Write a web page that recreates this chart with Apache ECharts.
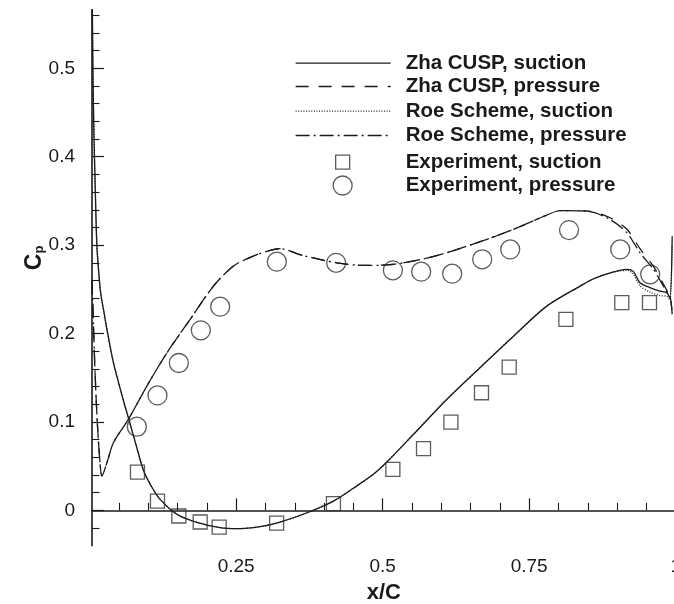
<!DOCTYPE html>
<html><head><meta charset="utf-8">
<script src="https://cdn.jsdelivr.net/npm/echarts@6/dist/echarts.min.js"></script>
<style>html,body{margin:0;padding:0;background:#fff}#c{width:674px;height:604px}</style>
</head><body><div id="c"></div>
<script>
// ---- tick values / labels ----
const xTickValues = [0.25, 0.5, 0.75, 1];
const xTickLabels = ['0.25', '0.5', '0.75', '1'];
const xMinorTicks = [0.05,0.1,0.15,0.2,0.3,0.35,0.4,0.45,0.55,0.6,0.65,0.7,0.8,0.85,0.9,0.95];
const yTickValues = [0, 0.1, 0.2, 0.3, 0.4, 0.5];
const yTickLabels = ['0', '0.1', '0.2', '0.3', '0.4', '0.5'];
const yMinorTicks = [-0.02,0.02,0.04,0.06,0.08,0.12,0.14,0.16,0.18,0.22,0.24,0.26,0.28,0.32,0.34,0.36,0.38,0.42,0.44,0.46,0.48,0.52,0.54,0.56];

// ---- series names ----
const seriesNames = ['Zha CUSP, suction','Zha CUSP, pressure','Roe Scheme, suction','Roe Scheme, pressure','Experiment, suction','Experiment, pressure'];

// ---- Zha CUSP, suction ----
const zhaSucX = [0.004,0.0055,0.0075,0.0095,0.0123,0.016,0.019,0.025,0.0294,0.0406,0.0577,0.066,0.08,0.092,0.1055,0.1203,0.1488,0.183,0.2227,0.2512,0.291,0.325,0.37,0.416,0.45,0.484,0.507,0.5526,0.6096,0.666,0.7232,0.78,0.837,0.86,0.89,0.917,0.928,0.939,0.956,0.973,0.985,0.990,0.994];
const zhaSucY = [0.62,0.50,0.42,0.365,0.30,0.265,0.245,0.222,0.205,0.167,0.124,0.105,0.072,0.045,0.027,0.0124,-0.0045,-0.0136,-0.0196,-0.0207,-0.0184,-0.0132,-0.003,0.0105,0.025,0.0407,0.0546,0.086,0.1256,0.1614,0.197,0.231,0.2537,0.262,0.269,0.2726,0.270,0.2575,0.252,0.248,0.246,0.240,0.31];
// ---- Roe Scheme, suction ----
const roeSucX = [0.004,0.0055,0.0075,0.0095,0.0123,0.016,0.019,0.025,0.0294,0.0406,0.0577,0.066,0.08,0.092,0.1055,0.1203,0.1488,0.183,0.2227,0.2512,0.291,0.325,0.37,0.416,0.45,0.484,0.507,0.5526,0.6096,0.666,0.7232,0.78,0.837,0.86,0.89,0.917,0.928,0.939,0.956,0.973,0.985,0.990,0.994];
const roeSucY = [0.62,0.50,0.42,0.365,0.30,0.265,0.245,0.222,0.205,0.167,0.124,0.105,0.072,0.045,0.027,0.0124,-0.0045,-0.0136,-0.0196,-0.0207,-0.0184,-0.0132,-0.003,0.0105,0.025,0.0407,0.0546,0.086,0.1256,0.1614,0.197,0.231,0.2537,0.262,0.269,0.2715,0.267,0.254,0.247,0.243,0.242,0.238,0.30];
// ---- Zha CUSP, pressure ----
const zhaPreX = [0.004,0.006,0.009,0.013,0.017,0.021,0.03,0.0406,0.0662,0.0976,0.1317,0.1715,0.2113,0.2454,0.2795,0.308,0.325,0.36,0.4218,0.47,0.5128,0.56,0.6096,0.678,0.72,0.752,0.78,0.8029,0.848,0.888,0.9167,0.939,0.962,0.979,0.987,0.991,0.994];
const zhaPreY = [0.26,0.22,0.16,0.10,0.06,0.039,0.055,0.0766,0.103,0.1406,0.178,0.216,0.2537,0.2764,0.2877,0.294,0.296,0.289,0.280,0.277,0.278,0.283,0.2915,0.3066,0.317,0.326,0.334,0.339,0.3386,0.331,0.318,0.296,0.276,0.256,0.246,0.241,0.222];
// ---- Roe Scheme, pressure ----
const roePreX = [0.004,0.006,0.009,0.013,0.017,0.021,0.03,0.0406,0.0662,0.0976,0.1317,0.1715,0.2113,0.2454,0.2795,0.308,0.325,0.36,0.4218,0.47,0.5128,0.56,0.6096,0.678,0.72,0.752,0.78,0.8029,0.848,0.888,0.9167,0.939,0.962,0.979,0.987,0.991,0.994];
const roePreY = [0.26,0.22,0.16,0.10,0.06,0.039,0.055,0.0766,0.103,0.1406,0.178,0.216,0.2537,0.2764,0.2877,0.294,0.296,0.289,0.280,0.277,0.278,0.283,0.2915,0.3066,0.317,0.326,0.334,0.339,0.3386,0.329,0.314,0.2915,0.2726,0.2537,0.245,0.24,0.222];
// ---- Experiment, suction ----
const expSucX = [0.0816,0.1157,0.1522,0.1886,0.221,0.319,0.416,0.5174,0.5697,0.6164,0.6686,0.7159,0.8126,0.908,0.9553];
const expSucY = [0.0433,0.0105,-0.0064,-0.0132,-0.0189,-0.0145,0.0076,0.0464,0.0698,0.0999,0.133,0.162,0.216,0.235,0.235];
// ---- Experiment, pressure ----
const expPreX = [0.0805,0.1157,0.1522,0.1897,0.2227,0.3194,0.4206,0.5174,0.5657,0.6186,0.6698,0.7176,0.818,0.9053,0.9565];
const expPreY = [0.0946,0.130,0.1667,0.2036,0.2304,0.2813,0.280,0.2715,0.270,0.2677,0.284,0.2952,0.317,0.2952,0.267];

const zip = (xs, ys) => xs.map((x, i) => [x, ys[i]]);
const FONT = "'Liberation Sans', Arial, Helvetica, sans-serif";
const INK = '#1a1a1a';

const chart = echarts.init(document.getElementById('c'), null, {renderer: 'canvas'});

function lineSeries(name, data, type, z) {
  return {name, type: 'line', data, symbol: 'none', smooth: 0.3, clip: true, z,
    lineStyle: {color: INK, width: 1.3, type}, itemStyle: {color: INK}, animation: false,
    emphasis: {disabled: true}};
}
function scatterSeries(name, data, symbol, size) {
  return {name, type: 'scatter', data, symbol, symbolSize: size, z: 5,
    itemStyle: {color: 'rgba(0,0,0,0)', borderColor: '#333', borderWidth: 1.3},
    animation: false, emphasis: {disabled: true}};
}
const labelFmt = (vals, labs) => v => { const i = vals.findIndex(t => Math.abs(t - v) < 1e-9); return i >= 0 ? labs[i] : ''; };

const legendRows = [62.7, 86, 110.7, 135, 161.7, 185];
function legendFor(i, left, w, h, pad, isLine) {
  return {data: [seriesNames[i]], left, top: legendRows[i] - 10, orient: 'vertical', padding: 0, itemGap: 0,
    selectedMode: false, itemWidth: w, itemHeight: h,
    textStyle: {fontFamily: FONT, fontSize: 20.5, fontWeight: 'bold', color: INK, lineHeight: 20, padding: [0, 0, 0, pad]},
    lineStyle: {width: 1.3},
    itemStyle: isLine ? {color: 'rgba(0,0,0,0)', borderColor: 'rgba(0,0,0,0)', borderWidth: 0}
                      : {borderWidth: 1.3}};
}

const option = {
  backgroundColor: '#fff',
  animation: false,
  grid: {left: 92, right: -1.7, top: 10, bottom: 58.3, outerBoundsMode: 'none', containLabel: false},
  legend: [
    legendFor(0, 295, 95, 14, 10, true),
    legendFor(1, 295, 95, 14, 10, true),
    legendFor(2, 295, 95, 14, 10, true),
    legendFor(3, 295, 95, 14, 10, true),
    legendFor(4, 335, 14, 14, 51, false),
    legendFor(5, 332.5, 19, 19, 48.5, false)
  ],
  xAxis: [
    {type: 'value', min: 0.004, max: 1, position: 'bottom',
     axisLine: {show: true, lineStyle: {color: INK, width: 1.6}},
     axisTick: {show: true, inside: true, length: 12, customValues: xTickValues, lineStyle: {color: INK, width: 1.2}},
     axisLabel: {show: true, customValues: xTickValues, formatter: labelFmt(xTickValues, xTickLabels), fontFamily: FONT, fontSize: 19, color: INK, margin: 12},
     splitLine: {show: false},
     name: 'x/C', nameLocation: 'middle', nameGap: 33,
     nameTextStyle: {fontFamily: FONT, fontSize: 22, fontWeight: 'bold', color: INK}},
    {type: 'value', min: 0.004, max: 1, position: 'bottom',
     axisLine: {show: false},
     axisTick: {show: true, inside: true, length: 7.5, customValues: xMinorTicks, lineStyle: {color: INK, width: 1.1}},
     axisLabel: {show: false}, splitLine: {show: false}}
  ],
  yAxis: [
    {type: 'value', min: -0.04, max: 0.566, position: 'left',
     axisLine: {show: true, lineStyle: {color: INK, width: 1.6}},
     axisTick: {show: true, inside: true, length: 12, customValues: yTickValues, lineStyle: {color: INK, width: 1.2}},
     axisLabel: {show: true, customValues: yTickValues, formatter: labelFmt(yTickValues, yTickLabels), fontFamily: FONT, fontSize: 19, color: INK, margin: 17},
     splitLine: {show: false},
     name: '{c|C}{p|p}', nameLocation: 'middle', nameGap: 46, nameRotate: 90, nameMoveOverlap: false,
     nameTextStyle: {padding: [0, 0, 0, 40], rich: {
       c: {fontFamily: FONT, fontSize: 23, fontWeight: 'bold', color: INK},
       p: {fontFamily: FONT, fontSize: 13, fontWeight: 'bold', color: INK, verticalAlign: 'bottom', padding: [10, 0, 0, 0]}}}},
    {type: 'value', min: -0.04, max: 0.566, position: 'left',
     axisLine: {show: false},
     axisTick: {show: true, inside: true, length: 7.5, customValues: yMinorTicks, lineStyle: {color: INK, width: 1.1}},
     axisLabel: {show: false}, splitLine: {show: false}}
  ],
  series: [
    lineSeries(seriesNames[2], zip(roeSucX, roeSucY), [1, 1.6], 2),
    lineSeries(seriesNames[1], zip(zhaPreX, zhaPreY), [13, 10], 2),
    lineSeries(seriesNames[3], zip(roePreX, roePreY), [14, 4, 2, 4], 3),
    lineSeries(seriesNames[0], zip(zhaSucX, zhaSucY), 'solid', 3),
    scatterSeries(seriesNames[4], zip(expSucX, expSucY), 'rect', 14),
    scatterSeries(seriesNames[5], zip(expPreX, expPreY), 'circle', 19)
  ]
};
chart.setOption(option);
</script>
</body></html>
